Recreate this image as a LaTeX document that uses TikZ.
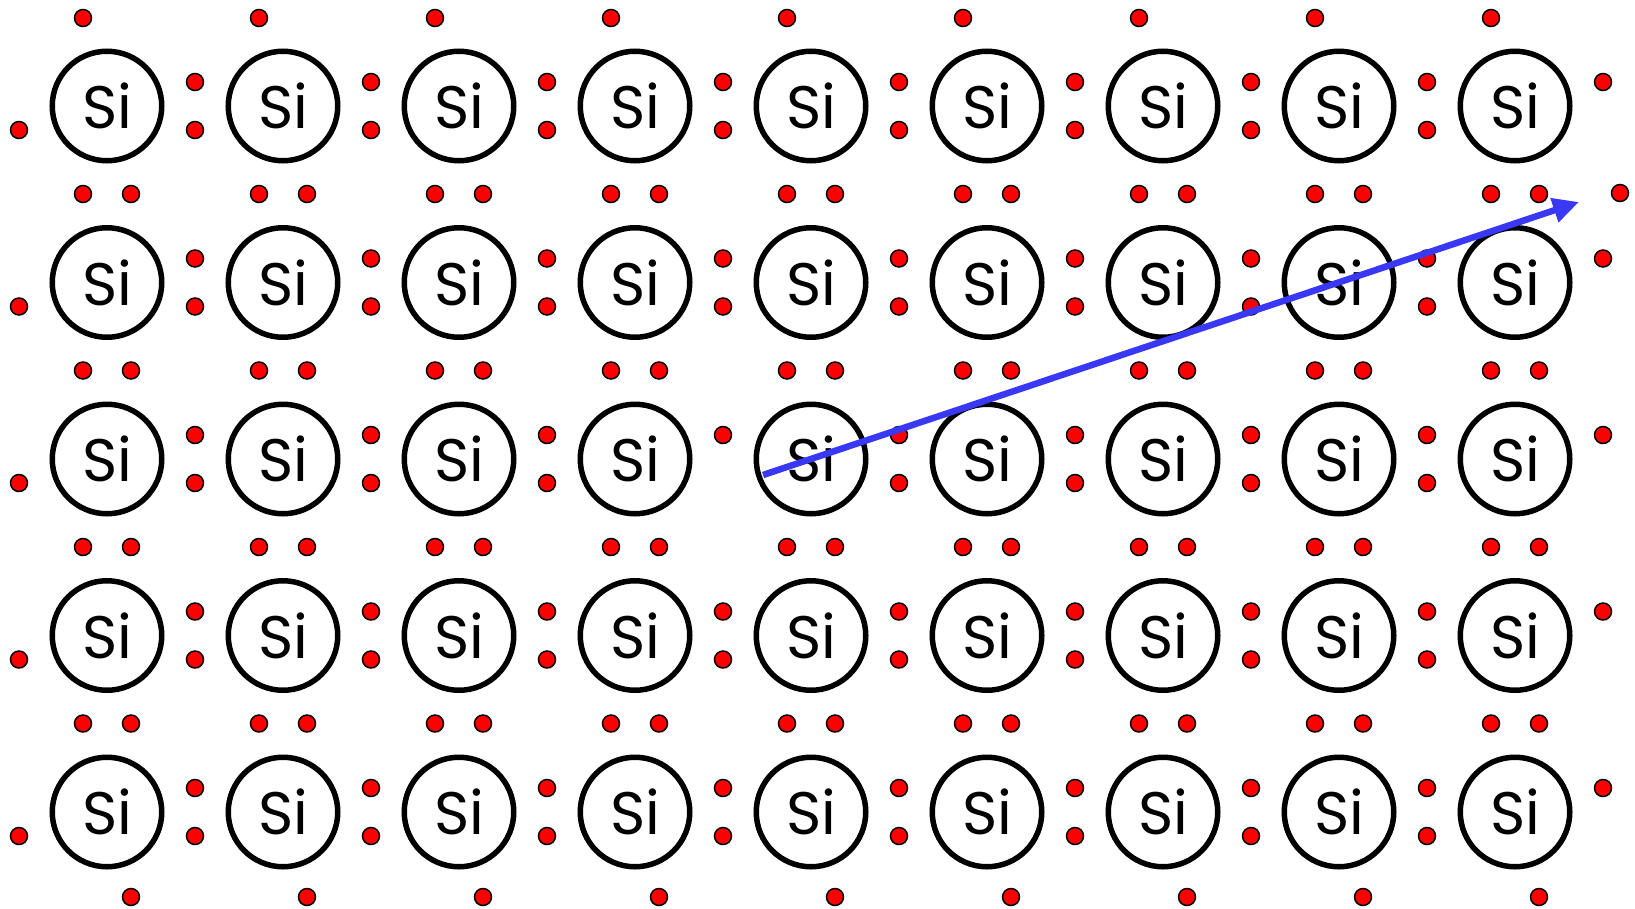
\documentclass[tikz,border=0pt]{standalone}
\usepackage{fontspec}
\setmainfont{Poppins}
\usetikzlibrary{arrows.meta}
\definecolor{eRed}{RGB}{255,0,0}
\definecolor{arrBlue}{RGB}{56,56,245}
\begin{document}
\begin{tikzpicture}[x=1pt,y=-1pt,
  atom/.style={circle,draw,line width=5.5pt,minimum size=109.5pt,inner sep=0pt,font=\fontsize{60}{60}\selectfont},
  electron/.style={circle,draw,fill=eRed,line width=1.5pt,minimum size=17pt,inner sep=0pt},
  freearrow/.style={arrBlue,line width=6.5pt,-{Triangle[length=26pt,width=24pt]}}]
\useasboundingbox (0,0) rectangle (1635,908);
% atoms
\foreach \i in {0,...,8}{\foreach \j in {0,...,4}{
  \node[atom] (a\i\j) at ({107+176*\i},{106+176.5*\j}) {Si};
}}
% top and bottom electrons
\foreach \i in {0,...,8}{
  \node[electron] (t\i) at ({83+176*\i},18) {};
  \node[electron] (b\i) at ({131+176*\i},897) {};
}
% left and right electrons
\foreach \j in {0,...,4}{
  \node[electron] (l\j) at (19,{130+176.5*\j}) {};
  \node[electron] (r\j) at (1603,{82+176.5*\j}) {};
}
% vertical bonds
\foreach \i in {0,...,8}{\foreach \j in {0,...,3}{
  \node[electron] (vl\i\j) at ({83+176*\i},{194+176.5*\j}) {};
  \node[electron] (vr\i\j) at ({131+176*\i},{194+176.5*\j}) {};
}}
% horizontal bonds
\foreach \i in {0,...,7}{\foreach \j in {0,...,4}{
  \node[electron] (hu\i\j) at ({195+176*\i},{82+176.5*\j}) {};
  \ifnum\i\j=32\relax\else
  \node[electron] (hd\i\j) at ({195+176*\i},{130+176.5*\j}) {};
  \fi
}}
% free electron
\node[electron] (free) at (1620,193) {};
% path of the electron
\coordinate (s) at (763,475);
\coordinate (e) at (1579,202);
\draw[freearrow] (s) -- (e);
\end{tikzpicture}
\end{document}
